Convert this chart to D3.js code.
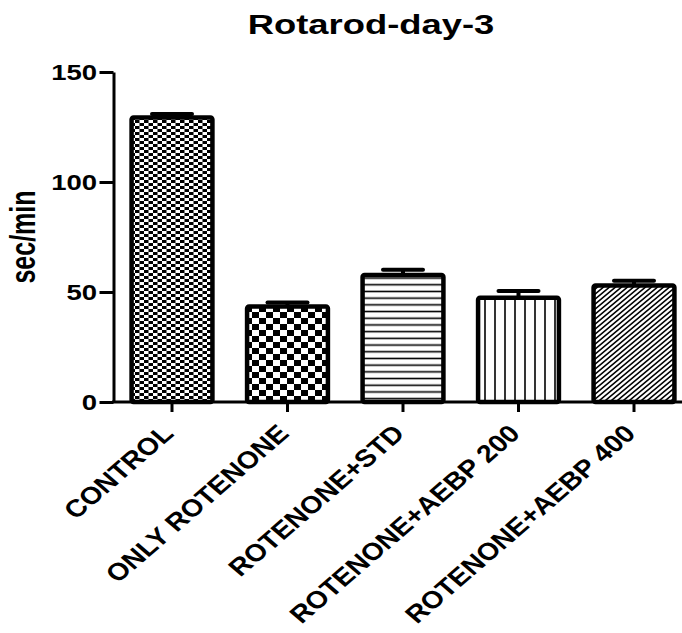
<!DOCTYPE html>
<html>
<head>
<meta charset="utf-8">
<script src="https://cdn.jsdelivr.net/npm/d3@7"></script>
<style>
  body { margin: 0; background: #fff; }
  text { font-family: "Liberation Sans", Arial, sans-serif; font-weight: bold; fill: #000; }
</style>
</head>
<body>
<div id="chart"></div>
<script>
// Data
const groups = ["CONTROL", "ONLY ROTENONE", "ROTENONE+STD", "ROTENONE+AEBP 200", "ROTENONE+AEBP 400"];
const means = [129.3, 43.4, 57.7, 47.4, 52.9];
const sems = [1.6, 1.8, 2.4, 3.0, 2.2];
const yTicks = [0, 50, 100, 150];

const width = 682;
const height = 633;
// the picture is stretched sideways, so text gets a small x scale
const stretch = 1.25;

var svg = d3.select("#chart")
            .append("svg")
                .attr("width", width)
                .attr("height", height);

// Fill patterns, one per bar
var defs = svg.append("defs");

function checker(id, w, h) {
    var p = defs.append("pattern")
        .attr("id", id)
        .attr("patternUnits", "userSpaceOnUse")
        .attr("width", 2 * w)
        .attr("height", 2 * h);
    p.append("rect").attr("width", 2 * w).attr("height", 2 * h).attr("fill", "#fff");
    p.append("rect").attr("width", w).attr("height", h).attr("fill", "#000");
    p.append("rect").attr("x", w).attr("y", h).attr("width", w).attr("height", h).attr("fill", "#000");
}

function lines(id, w, h, d, sw) {
    var p = defs.append("pattern")
        .attr("id", id)
        .attr("patternUnits", "userSpaceOnUse")
        .attr("width", w)
        .attr("height", h);
    p.append("rect").attr("width", w).attr("height", h).attr("fill", "#fff");
    p.append("path").attr("d", d).attr("stroke", "#000").attr("stroke-width", sw).attr("fill", "none");
}

checker("fineCheck", 4.5, 3);
checker("bigCheck", 7, 6);
lines("hLines", 10, 6.7, "M0,3.35 L10,3.35", 1.6);
lines("vLines", 10, 10, "M5,0 L5,10", 1.6);
lines("diag", 6, 5, "M0,5 L6,0 M-3,2.5 L3,-2.5 M3,7.5 L9,2.5", 1.6);

var fills = ["fineCheck", "bigCheck", "hLines", "vLines", "diag"];

// Scales
var scaleX = d3.scaleBand()
                .domain(groups)
                .range([114.25, 691.75])
                .paddingInner(0.3)
                .paddingOuter(0.15);

var scaleY = d3.scaleLinear()
                .domain([0, 150])
                .range([402, 72]);

// Bars
svg.selectAll("rect.bar")
    .data(groups)
    .enter()
    .append("rect")
        .attr("class", "bar")
        .attr("x", function(d) { return scaleX(d); })
        .attr("y", function(d, i) { return scaleY(means[i]); })
        .attr("width", scaleX.bandwidth())
        .attr("height", function(d, i) { return scaleY(0) - scaleY(means[i]); })
        .attr("rx", 2)
        .attr("fill", function(d, i) { return "url(#" + fills[i] + ")"; })
        .attr("stroke", "#000")
        .attr("stroke-width", 4.5);

// Error bars (upper half only)
var err = svg.selectAll("g.err")
    .data(groups)
    .enter()
    .append("g")
        .attr("class", "err")
        .attr("transform", function(d) { return "translate(" + (scaleX(d) + scaleX.bandwidth() / 2) + ",0)"; });

err.append("line")
    .attr("y1", function(d, i) { return scaleY(means[i]); })
    .attr("y2", function(d, i) { return scaleY(means[i] + sems[i]); })
    .attr("stroke", "#000")
    .attr("stroke-width", 4);

err.append("line")
    .attr("x1", -20)
    .attr("x2", 20)
    .attr("y1", function(d, i) { return scaleY(means[i] + sems[i]); })
    .attr("y2", function(d, i) { return scaleY(means[i] + sems[i]); })
    .attr("stroke", "#000")
    .attr("stroke-width", 4)
    .attr("stroke-linecap", "round");

// Y axis
var axisY = svg.append("g")
    .attr("transform", "translate(113.5,0)")
    .call(d3.axisLeft(scaleY).tickValues(yTicks).tickSize(14).tickSizeOuter(0));

axisY.select(".domain").attr("stroke-width", 3);
axisY.selectAll(".tick line").attr("stroke-width", 3);
axisY.selectAll(".tick text")
    .attr("x", -16.5 / stretch)
    .attr("dy", "0.36em")
    .attr("transform", "scale(" + stretch + ",1)")
    .style("font-size", "22px")
    .style("font-family", "'Liberation Sans', Arial, sans-serif")
    .style("font-weight", "bold");

// X axis
var axisX = svg.append("g")
    .attr("transform", "translate(0,402)")
    .call(d3.axisBottom(scaleX).tickSize(10).tickSizeOuter(0));

axisX.select(".domain").remove();
axisX.append("line")
    .attr("x1", 112)
    .attr("x2", width)
    .attr("stroke", "#000")
    .attr("stroke-width", 3);
axisX.selectAll(".tick line").attr("stroke-width", 3);
axisX.selectAll(".tick text").remove();

axisX.selectAll(".tick")
    .append("text")
        .attr("transform", "translate(3,33) scale(1.16,1) rotate(-45)")
        .style("text-anchor", "end")
        .style("font-size", "24.5px")
        .text(function(d) { return d; });

// Chart title
svg.append("text")
    .attr("transform", "translate(371,34) scale(1.3,1)")
    .style("text-anchor", "middle")
    .style("font-size", "28px")
    .text("Rotarod-day-3");

// Y axis label
svg.append("text")
    .attr("transform", "translate(35,237) scale(1.4,1) rotate(-90)")
    .style("text-anchor", "middle")
    .style("font-size", "25px")
    .text("sec/min");
</script>
</body>
</html>
